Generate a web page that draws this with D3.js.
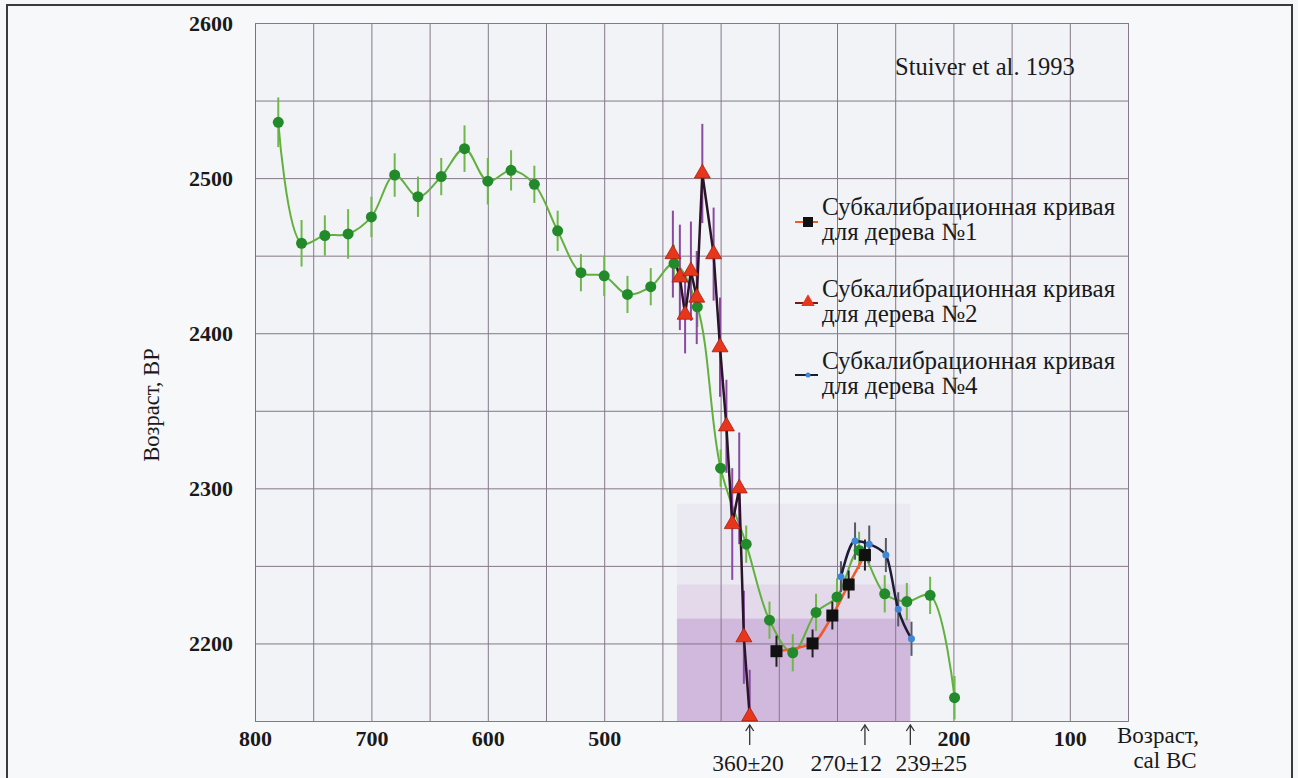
<!DOCTYPE html>
<html><head><meta charset="utf-8">
<script src="https://cdn.jsdelivr.net/npm/d3@7"></script>
<style>
html,body{margin:0;padding:0;background:#f6f7f9;}
svg{display:block;font-family:"Liberation Serif","Times New Roman",serif;}
</style></head>
<body>
<svg id="chart" width="1298" height="778"></svg>
<script>
// ---- data ----
const stuiverYears = [780,760,740,720,700,680,660,640,620,600,580,560,540,520,500,480,460,440,420,400,378,358,338,318,300,281,259,240,220,199];
const stuiverBP    = [2536,2458,2463,2464,2475,2502,2488,2501,2519,2498,2505,2496,2466,2439,2437,2425,2430,2445,2417,2313,2264,2215,2194,2220,2230,2260,2232,2227,2231,2165];
const stuiverErr   = [16,15,13,16,13,14,13,12,15,15,13,12,13,12,13,12,12,12,13,12,12,12,12,12,12,12,12,12,12,14];

const tree1Years = [352,321,304,290,276];
const tree1BP    = [2195,2200,2218,2238,2257];
const tree1Err   = [10,9,9,9,10];

const tree2Years = [441,435,430.5,425.5,420.5,415.7,406,400.5,395,390,384,380,375];
const tree2BP    = [2451,2436,2412,2440,2423,2503,2451,2391,2340,2277,2300,2204,2153];
const tree2Err   = [28,34,25,32,30,32,30,32,30,36,36,30,30];

const tree4Years = [296.6,284.5,272.3,258,247.4,236];
const tree4BP    = [2243,2266,2264,2257,2222,2203];
const tree4Err   = [10,12,12,11,11,11];

const xGridTicks  = [800,750,700,650,600,550,500,450,400,350,300,250,200,150,100,50];
const xLabelTicks = [800,700,600,500,200,100];
const yGridTicks  = [2150,2200,2250,2300,2350,2400,2450,2500,2550,2600];
const yLabelTicks = [2200,2300,2400,2500,2600];

const shadeYearsFrom = 437.5, shadeYearsTo = 237;
const shadeLevels = [2290, 2238, 2216];
const shadeOpacity = [0.06, 0.10, 0.24];

const arrowYears = [375, 276, 237];
const arrowLabels = ["360±20", "270±12", "239±25"];
const arrowLabelYears = [376.5, 292, 219];

const legendLabels = [["Субкалибрационная кривая","для дерева №1"],
                      ["Субкалибрационная кривая","для дерева №2"],
                      ["Субкалибрационная кривая","для дерева №4"]];

// ---- setup ----
const svg = d3.select("#chart");
const L = 255, R = 1128, T = 23, B = 721;
const x = d3.scaleLinear().domain([800,50]).range([L,R]);
const y = d3.scaleLinear().domain([2150,2600]).range([B,T]);
const ink = "#1a1a1a";

svg.append("rect").attr("x",7).attr("y",5).attr("width",1285).attr("height",800)
  .attr("fill","#f7f8fa").attr("stroke","#3a3a3a").attr("stroke-width",2);
svg.append("rect").attr("x",L).attr("y",T).attr("width",R-L).attr("height",B-T).attr("fill","#f1f3f7");

shadeLevels.forEach((lv,i)=>{
  svg.append("rect").attr("x",x(shadeYearsFrom)).attr("width",x(shadeYearsTo)-x(shadeYearsFrom))
    .attr("y",y(lv)).attr("height",B-y(lv)).attr("fill","#9a4fae").attr("opacity",shadeOpacity[i]);
});

const gridX = svg.append("g").attr("transform",`translate(0,${B})`)
  .call(d3.axisBottom(x).tickValues(xGridTicks).tickSize(-(B-T)).tickFormat(""));
gridX.select(".domain").attr("stroke","#7d6f80");
gridX.selectAll(".tick line").attr("stroke","#857888").attr("stroke-width",1);
const gridY = svg.append("g").attr("transform",`translate(${L},0)`)
  .call(d3.axisLeft(y).tickValues(yGridTicks).tickSize(-(R-L)).tickFormat(""));
gridY.select(".domain").attr("stroke","#7d6f80");
gridY.selectAll(".tick line").attr("stroke","#857888").attr("stroke-width",1);

const xl = svg.append("g").attr("transform",`translate(0,${B})`)
  .call(d3.axisBottom(x).tickValues(xLabelTicks).tickSize(0).tickPadding(9).tickFormat(d3.format("d")));
xl.select(".domain").remove();
xl.selectAll("text").attr("font-family","Liberation Serif").attr("font-size",22).attr("font-weight","bold").attr("fill",ink);
const yl = svg.append("g").attr("transform",`translate(${L},0)`)
  .call(d3.axisLeft(y).tickValues(yLabelTicks).tickSize(0).tickPadding(22).tickFormat(d3.format("d")));
yl.select(".domain").remove();
yl.selectAll("text").attr("font-family","Liberation Serif").attr("font-size",22).attr("font-weight","bold").attr("fill",ink);

svg.append("text").attr("transform","translate(159,405) rotate(-90)").attr("text-anchor","middle")
  .attr("font-size",22.5).attr("fill",ink).text("Возраст, ВР");
svg.append("text").attr("x",1158).attr("y",743).attr("text-anchor","middle").attr("font-size",23).attr("fill",ink).text("Возраст,");
svg.append("text").attr("x",1165).attr("y",768).attr("text-anchor","middle").attr("font-size",23).attr("fill",ink).text("cal BC");
svg.append("text").attr("x",895).attr("y",75).attr("font-size",24.5).attr("fill",ink).text("Stuiver et al. 1993");

svg.append("clipPath").attr("id","plotclip").append("rect").attr("x",L).attr("y",T).attr("width",R-L).attr("height",B-T);
const plot = svg.append("g").attr("clip-path","url(#plotclip)");
const marks = svg.append("g");

function series(years, bp, err){ return years.map((d,i)=>({x:d, y:bp[i], e:err[i]})); }
const sG = series(stuiverYears, stuiverBP, stuiverErr);
const s1 = series(tree1Years, tree1BP, tree1Err);
const s2 = series(tree2Years, tree2BP, tree2Err);
const s4 = series(tree4Years, tree4BP, tree4Err);

function errBars(data, color, width){
  plot.append("g").selectAll("line").data(data).join("line")
    .attr("x1",d=>x(d.x)).attr("x2",d=>x(d.x))
    .attr("y1",d=>y(d.y-d.e)).attr("y2",d=>y(d.y+d.e))
    .attr("stroke",color).attr("stroke-width",width);
}

errBars(sG, "#6fb84a", 2);
plot.append("path").datum(sG).attr("fill","none").attr("stroke","#62b03e").attr("stroke-width",2)
  .attr("d", d3.line().x(d=>x(d.x)).y(d=>y(d.y)).curve(d3.curveCatmullRom.alpha(0.5)));
marks.append("g").selectAll("circle").data(sG).join("circle")
  .attr("cx",d=>x(d.x)).attr("cy",d=>y(d.y)).attr("r",5.5).attr("fill","#238a2c");

errBars(s2, "#8a4aa0", 2);
plot.append("path").datum(s2).attr("fill","none").attr("stroke","#2a1428").attr("stroke-width",2.5)
  .attr("d", d3.line().x(d=>x(d.x)).y(d=>y(d.y)));
const tri = d3.symbol().type(d3.symbolTriangle).size(110);
marks.append("g").selectAll("path").data(s2).join("path")
  .attr("transform",d=>`translate(${x(d.x)},${y(d.y)})`).attr("d",tri)
  .attr("fill","#e8361c").attr("stroke","#a0200e").attr("stroke-width",0.8);

errBars(s1, "#222", 2);
plot.append("path").datum(s1).attr("fill","none").attr("stroke","#ee5a2a").attr("stroke-width",2.5)
  .attr("d", d3.line().x(d=>x(d.x)).y(d=>y(d.y)).curve(d3.curveMonotoneX));
marks.append("g").selectAll("rect").data(s1).join("rect")
  .attr("x",d=>x(d.x)-6).attr("y",d=>y(d.y)-6).attr("width",12).attr("height",12).attr("fill","#111");

errBars(s4, "#555a66", 2);
plot.append("path").datum(s4).attr("fill","none").attr("stroke","#1c1c34").attr("stroke-width",2.5)
  .attr("d", d3.line().x(d=>x(d.x)).y(d=>y(d.y)).curve(d3.curveMonotoneX));
marks.append("g").selectAll("circle").data(s4).join("circle")
  .attr("cx",d=>x(d.x)).attr("cy",d=>y(d.y)).attr("r",3.5).attr("fill","#3d86d8");

arrowYears.forEach((yr,i)=>{
  const ax = x(yr);
  svg.append("line").attr("x1",ax).attr("x2",ax).attr("y1",B+4).attr("y2",B+24).attr("stroke","#333").attr("stroke-width",1.3);
  svg.append("path").attr("d",`M${ax-4},${B+10}L${ax},${B+4}L${ax+4},${B+10}`).attr("fill","none").attr("stroke","#333").attr("stroke-width",1.3);
  svg.append("text").attr("x",x(arrowLabelYears[i])).attr("y",771).attr("text-anchor","middle")
    .attr("font-size",23.5).attr("fill",ink).text(arrowLabels[i]);
});

const legY = [222, 303, 375];
const legTextY = [[215,240],[297,322],[369,394]];
legendLabels.forEach((lab,i)=>{
  const g = svg.append("g");
  const ly = legY[i];
  const lineColor = i===0 ? "#ee5a2a" : (i===1 ? "#7a1a14" : "#1c1c34");
  g.append("line").attr("x1",795).attr("x2",818).attr("y1",ly).attr("y2",ly).attr("stroke",lineColor).attr("stroke-width",2);
  if(i===0) g.append("rect").attr("x",803).attr("y",ly-5).attr("width",10).attr("height",10).attr("fill","#111");
  if(i===1) g.append("path").attr("transform",`translate(808,${ly-1})`).attr("d",d3.symbol().type(d3.symbolTriangle).size(80)).attr("fill","#e8361c");
  if(i===2) g.append("circle").attr("cx",808).attr("cy",ly).attr("r",2.5).attr("fill","#3d86d8");
  lab.forEach((t,j)=>{
    g.append("text").attr("x",822).attr("y",legTextY[i][j]).attr("font-size",25).attr("fill",ink).text(t);
  });
});
</script>
</body></html>
